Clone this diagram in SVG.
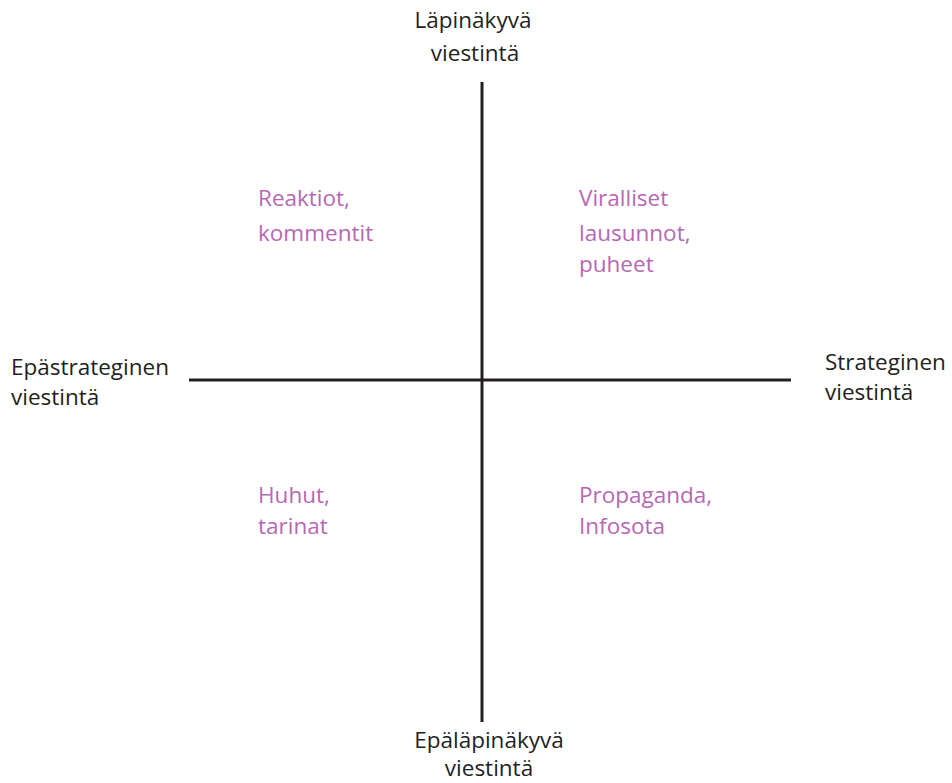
<svg xmlns="http://www.w3.org/2000/svg" width="952" height="783" viewBox="0 0 952 783">
  <style>
    .axis { stroke: #231f20; stroke-width: 3; fill: none; }
    .lbl { font-family: "Open Sans", "Noto Sans", "Liberation Sans", sans-serif; font-size: 22.5px; fill: #231f20; }
    .q { font-family: "Open Sans", "Noto Sans", "Liberation Sans", sans-serif; font-size: 22.5px; fill: #b767b3; }
    .mid { text-anchor: middle; }
  </style>
  <rect width="952" height="783" fill="#ffffff"/>
  <g id="connectors">
    <line class="axis" x1="482" y1="82" x2="482" y2="722"/>
    <line class="axis" x1="189" y1="380" x2="791" y2="380"/>
  </g>
  <g id="top-label">
    <text class="lbl mid" x="473" y="28">Läpinäkyvä</text>
    <text class="lbl mid" x="475" y="61">viestintä</text>
  </g>
  <g id="bottom-label">
    <text class="lbl mid" x="489" y="748">Epäläpinäkyvä</text>
    <text class="lbl mid" x="489" y="776">viestintä</text>
  </g>
  <g id="left-label">
    <text class="lbl" x="11" y="375">Epästrateginen</text>
    <text class="lbl" x="11" y="405">viestintä</text>
  </g>
  <g id="right-label">
    <text class="lbl" x="825" y="370">Strateginen</text>
    <text class="lbl" x="825" y="400">viestintä</text>
  </g>
  <g id="q-top-left">
    <text class="q" x="258" y="206">Reaktiot,</text>
    <text class="q" x="258" y="241">kommentit</text>
  </g>
  <g id="q-top-right">
    <text class="q" x="579" y="206">Viralliset</text>
    <text class="q" x="579" y="241">lausunnot,</text>
    <text class="q" x="579" y="272">puheet</text>
  </g>
  <g id="q-bottom-left">
    <text class="q" x="258" y="503">Huhut,</text>
    <text class="q" x="258" y="534">tarinat</text>
  </g>
  <g id="q-bottom-right">
    <text class="q" x="579" y="503">Propaganda,</text>
    <text class="q" x="579" y="534">Infosota</text>
  </g>
</svg>
